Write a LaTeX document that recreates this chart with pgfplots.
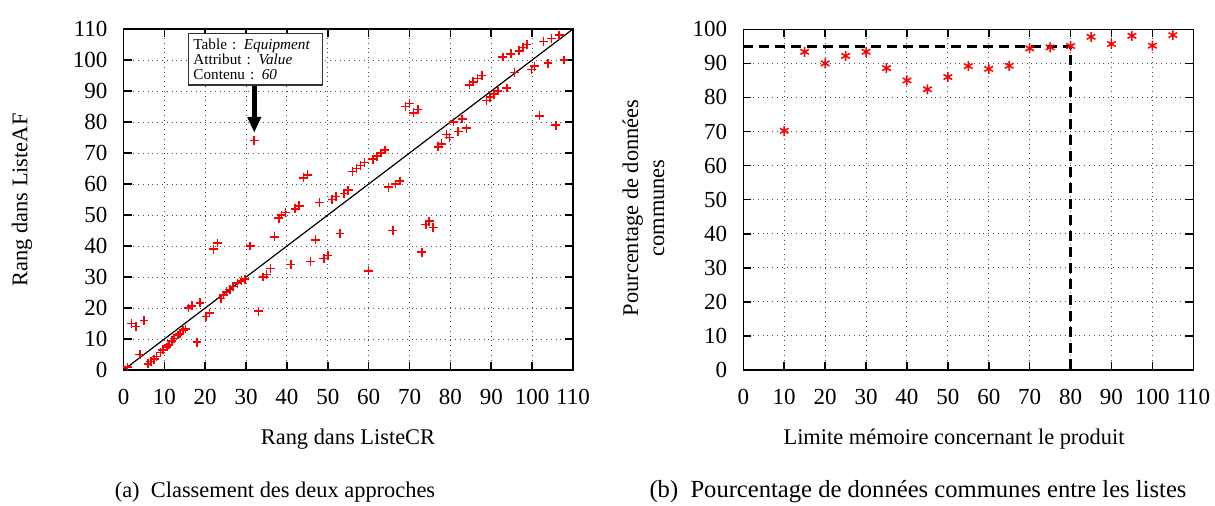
\documentclass[border=0pt]{standalone}
\usepackage{fontspec}
\setmainfont{Liberation Serif}
\usepackage{pgfplots}
\pgfplotsset{compat=1.18}
\usetikzlibrary{arrows.meta}

\pgfplotstableread{
x y
1 1
2 15
3 14
5 16
4 5
6 2
6.7 2.7
7.5 3.5
8.1 4.3
9.1 5.7
9.6 6.5
10.6 7.4
11.1 8.1
11.8 9.4
12.4 10.2
13.3 11.3
13.8 11.7
14.6 12.8
15.2 13.2
15.9 20
16.7 20.7
18.7 21.7
18 9
20.2 17.3
21 18.4
22 39
23 41
23.8 23.1
24.5 24.2
25.2 25.2
26 26
26.8 26.9
27.9 28
28.9 28.8
29.7 29.3
31 40
32 74
33 19
34.2 30
35 30.8
36 32.8
37 43
38 49
38.7 50
39.6 50.8
42 52
43 53
41 34
44 62
45 63
45.8 35
47 42
48 54
49 36
50 37
51 55
52 56
53 44
54 57
55 58
56 64
57 65
58 66
59 67
60 32
61 68
62 69
63 70
64 71
64.8 59
66.6 60
67.6 61
65.9 45
69 85
70 86
71 83
72 84
73 38
74 47
74.8 48
75.8 46
77 72
77.8 73
79 76
79.8 75
80.8 80
81.9 77
82.9 81
83.9 78
84.7 92
85.6 93
86.6 94
87.7 95
88.8 87
89.7 88
90.6 89
91.6 90
92.8 101
94.8 102
96.8 103
97.8 104
98.7 105
93.8 91
95.7 96
99.8 97
100.6 98
101.8 82
102.8 106
104.7 107
106.6 108
103.9 99
105.8 79
107.8 100
}\tableA

\pgfplotstableread{
x y
10 70.2
15 93.4
20 90
25 92.2
30 93.4
35 88.6
40 85
45 82.4
50 86
55 89.2
60 88.4
65 89.3
70 94.4
75 94.7
80 95.1
85 97.8
90 95.7
95 98.1
100 95.2
105 98.3
}\tableB

\begin{document}
\begin{tikzpicture}
\useasboundingbox (0,0) rectangle (607.5pt,-252.5pt);
\pgfplotsset{
  commonaxis/.style={
    scale only axis,
    anchor=south west,
    xmin=0,xmax=110,
    xtick={0,10,...,110},
    tick align=inside, major tick length=4pt,
    grid=major, grid style={dotted, black!70, line width=0.5pt},
    axis line style={line width=0.8pt},
    every tick/.style={black, line width=0.8pt},
    tick label style={font=\fontsize{11.5}{12}\selectfont},
    /pgf/number format/assume math mode=true,
    xticklabel style={yshift=-6pt},
    yticklabel style={xshift=-4.5pt},
    clip=false,
  }
}
\begin{axis}[commonaxis,
  at={(61.75pt,-185pt)},
  width=224.75pt, height=170.5pt,
  ymin=0,ymax=110, ytick={0,10,...,110},
]
\addplot[black, line width=0.6pt, no marks] coordinates {(0,0) (110,110)};
\addplot[only marks, mark=+, color=red, mark size=2.2pt, mark options={draw=red, line width=0.8pt}] table {\tableA};
\node[draw=black!80, fill=white, align=left, font=\fontsize{7.6}{7.6}\selectfont, inner sep=2.5pt, line width=0.6pt, text width=62pt] at (axis cs:32.3,100.2) {Table : \textit{Equipment}\\ Attribut : \textit{Value}\\ Contenu : \textit{60}};
\draw[-{Triangle[width=6.5pt,length=8pt]}, line width=2.5pt] (axis cs:32,91.5) -- (axis cs:32,76.5);
\end{axis}

\begin{axis}[commonaxis,
  at={(371.65pt,-185pt)},
  width=225pt, height=170.35pt,
  ymin=0,ymax=100, ytick={0,10,...,100},
]
\addplot[black, line width=1.4pt, dash pattern=on 5pt off 3pt, no marks] coordinates {(0,95) (80,95) (80,0)};
\addplot[only marks, mark=asterisk, color=red, mark size=2.5pt, mark options={draw=red, line width=0.75pt}] table {\tableB};
\end{axis}

\begin{scope}[font=\fontsize{11.2}{13}\selectfont]
\node at (174pt,-219.5pt) {Rang dans ListeCR};
\node[rotate=90] at (11pt,-100pt) {Rang dans ListeAF};
\node at (477pt,-219.5pt) {Limite mémoire concernant le produit};
\node[rotate=90, align=center] at (321.75pt,-104pt) {Pourcentage de données\\communes};
\node at (137.5pt,-246pt) {(a)\ \ Classement des deux approches};
\node[font=\fontsize{12.3}{13}\selectfont] at (459pt,-246pt) {(b)\ \ Pourcentage de données communes entre les listes};
\end{scope}
\end{tikzpicture}
\end{document}
